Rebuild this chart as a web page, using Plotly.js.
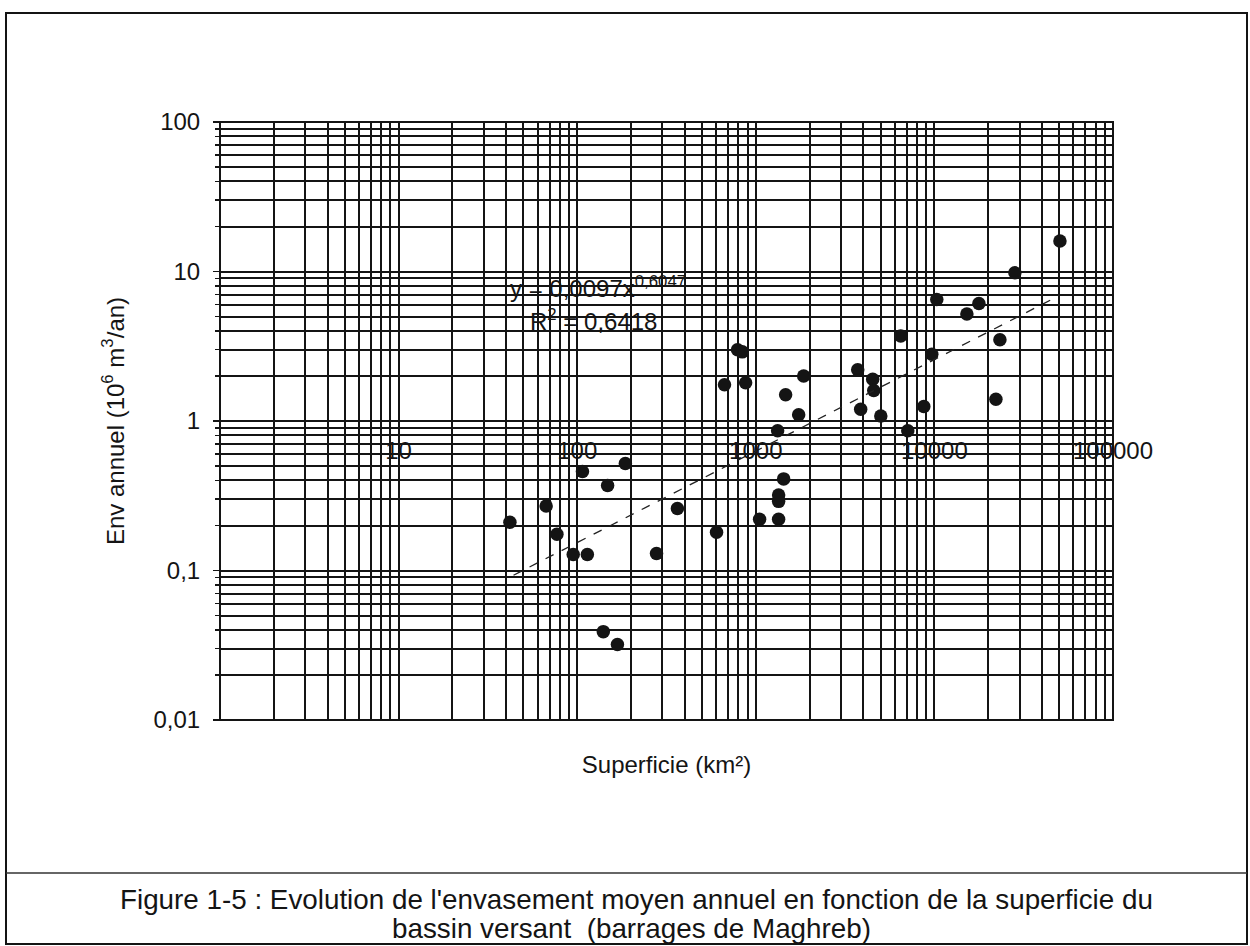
<!DOCTYPE html>
<html><head><meta charset="utf-8">
<script src="https://cdn.plot.ly/plotly-3.0.1.min.js"></script>
<style>html,body{margin:0;padding:0;background:#fff}#chart{width:1250px;height:946px}</style>
</head><body><div id="chart"></div>
<script>
// Superficie du bassin versant (km²) and envasement annuel (10^6 m³/an)
const superficie = [42, 67, 77, 95, 114, 107, 148, 186, 140, 168, 278, 364, 603, 1050, 1342, 1342, 1342, 1432, 1325, 1738, 668, 877, 790, 840, 1469, 1854, 3721, 4514, 4575, 3866, 5010, 6480, 7096, 8725, 9670, 10310, 15200, 17750, 23270, 22100, 28230, 50450];
const envasement = [0.21, 0.27, 0.175, 0.128, 0.128, 0.46, 0.37, 0.52, 0.039, 0.032, 0.13, 0.26, 0.18, 0.22, 0.22, 0.29, 0.32, 0.41, 0.86, 1.1, 1.75, 1.8, 3.0, 2.9, 1.5, 2.0, 2.2, 1.9, 1.6, 1.2, 1.08, 3.7, 0.86, 1.25, 2.8, 6.5, 5.2, 6.1, 3.5, 1.4, 9.8, 16];

// Power trendline y = 0,0097 x^0,6047 (end points)
const trendX = [44, 50000];
const trendY = [0.093, 6.9];

// Axis labels
const xDecades = [1, 10, 100, 1000, 10000, 100000];
const xLabelVals = [10, 100, 1000, 10000, 100000];
const xLabels = ['10', '100', '1000', '10000', '100000'];
const yLabelVals = [0.01, 0.1, 1, 10, 100];
const yLabels = ['0,01', '0,1', '1', '10', '100'];
const minorMultiples = [2, 3, 4, 5, 6, 7, 8, 9];

function minorGrid(minExp, maxExp) {
  const v = [];
  for (let e = minExp; e < maxExp; e++) minorMultiples.forEach(m => v.push(+(m * Math.pow(10, e)).toPrecision(6)));
  return v;
}
const xMinor = minorGrid(0, 5);
const yMinor = minorGrid(-2, 2);

const ink = '#141414';
const FONT = 'Liberation Sans, Arial, sans-serif';

const traces = [
  { type: 'scatter', mode: 'markers', x: superficie, y: envasement, xaxis: 'x', yaxis: 'y',
    marker: { color: ink, size: 13.5, line: { width: 0 } }, hoverinfo: 'x+y' },
  { type: 'scatter', mode: 'lines', x: trendX, y: trendY, xaxis: 'x2', yaxis: 'y',
    line: { color: '#222', width: 1.3, dash: 'dash' }, hoverinfo: 'skip' }
];

// paper-coordinate helpers for decorative frame
const L = 220, R = 1113, T = 122, B = 720;
const px = X => (X - L) / (R - L);
const py = Y => (B - Y) / (B - T);

const layout = {
  width: 1250, height: 946,
  margin: { l: L, r: 1250 - R, t: T, b: 946 - B, pad: 0 },
  paper_bgcolor: '#fff', plot_bgcolor: '#fff',
  font: { family: FONT, color: ink, size: 24 },
  showlegend: false,
  xaxis: {
    type: 'log', range: [0, 5], autorange: false,
    tickmode: 'array', tickvals: xDecades, showticklabels: false,
    showgrid: true, gridcolor: ink, gridwidth: 2,
    minor: { tickmode: 'array', tickvals: xMinor, showgrid: true, gridcolor: ink, gridwidth: 2, ticks: '' },
    zeroline: false, showline: false, ticks: '',
    title: { text: 'Superficie (km²)', font: { size: 24, family: FONT }, standoff: 36 }
  },
  xaxis2: {
    type: 'log', range: [0, 5], autorange: false,
    overlaying: 'x', anchor: 'free', position: 0.5,
    tickmode: 'array', tickvals: xLabelVals, ticktext: xLabels,
    showgrid: false, zeroline: false, showline: false, ticks: '',
    ticklabelstandoff: 13, tickfont: { size: 24, family: FONT, color: ink }
  },
  yaxis: {
    type: 'log', range: [-2, 2], autorange: false,
    tickmode: 'array', tickvals: yLabelVals, ticktext: yLabels,
    showgrid: true, gridcolor: ink, gridwidth: 2,
    minor: { tickmode: 'array', tickvals: yMinor, showgrid: true, gridcolor: ink, gridwidth: 2, ticks: 'outside', ticklen: 4, tickcolor: ink },
    zeroline: false, showline: false,
    ticks: 'outside', ticklen: 6, tickcolor: ink, tickwidth: 1.5,
    ticklabelstandoff: 8, tickfont: { size: 24, family: FONT, color: ink },
    title: { text: 'Env annuel (10<sup>6</sup> m<sup>3</sup>/an)', font: { size: 24, family: FONT }, standoff: 22 }
  },
  shapes: [
    { type: 'rect', xref: 'paper', yref: 'paper', x0: 0, x1: 1, y0: 0, y1: 1, line: { color: ink, width: 2 } },
    { type: 'rect', xref: 'paper', yref: 'paper', x0: px(6), x1: px(1247), y0: py(944), y1: py(13), line: { color: ink, width: 2 } },
    { type: 'line', xref: 'paper', yref: 'paper', x0: px(6), x1: px(1247), y0: py(873), y1: py(873), line: { color: '#333', width: 1.5 } }
  ],
  annotations: [
    { xref: 'paper', yref: 'paper', x: px(598), y: py(287), xanchor: 'center', yanchor: 'middle', showarrow: false,
      text: 'y = 0,0097x<sup>0,6047</sup>', font: { size: 24, family: FONT, color: ink } },
    { xref: 'paper', yref: 'paper', x: px(593), y: py(320), xanchor: 'center', yanchor: 'middle', showarrow: false,
      text: 'R<sup>2</sup> = 0,6418', font: { size: 24, family: FONT, color: ink } },
    { xref: 'paper', yref: 'paper', x: px(636), y: py(899), xanchor: 'center', yanchor: 'middle', showarrow: false,
      text: "Figure 1-5 : Evolution de l'envasement moyen annuel en fonction de la superficie du", font: { size: 27.8, family: FONT, color: ink } },
    { xref: 'paper', yref: 'paper', x: px(631), y: py(928), xanchor: 'center', yanchor: 'middle', showarrow: false,
      text: 'bassin versant  (barrages de Maghreb)', font: { size: 27.8, family: FONT, color: ink } }
  ]
};

Plotly.newPlot('chart', traces, layout, { displayModeBar: false, staticPlot: true });
</script>
</body></html>
